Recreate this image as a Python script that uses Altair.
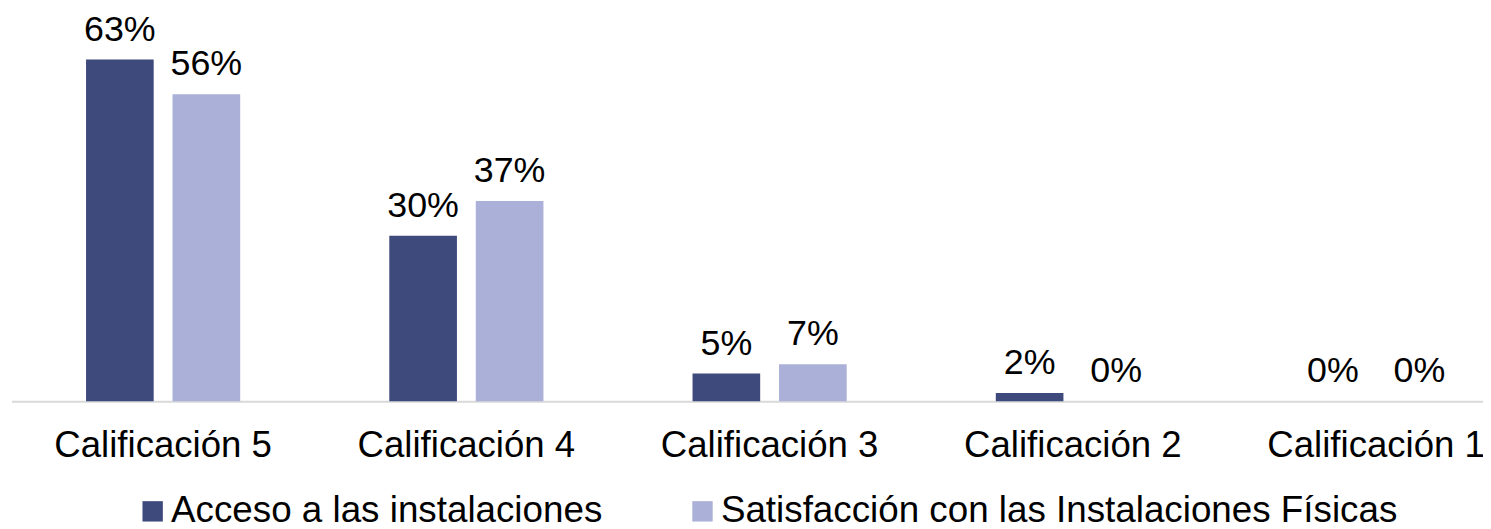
import altair as alt
import pandas as pd

categories = ["Calificación 5", "Calificación 4", "Calificación 3", "Calificación 2", "Calificación 1"]
series = ["Acceso a las instalaciones", "Satisfacción con las Instalaciones Físicas"]
acceso = [62.8, 30.4, 5.1, 1.5, 0.0]
satisfaccion = [56.4, 36.8, 6.8, 0.0, 0.0]
acceso_labels = ["63%", "30%", "5%", "2%", "0%"]
satisfaccion_labels = ["56%", "37%", "7%", "0%", "0%"]
colors = ["#3F4A7C", "#AAB0D8"]

rows = []
for i, c in enumerate(categories):
    rows.append({"cat": c, "serie": series[0], "value": acceso[i], "label": acceso_labels[i]})
    rows.append({"cat": c, "serie": series[1], "value": satisfaccion[i], "label": satisfaccion_labels[i]})
df = pd.DataFrame(rows)

font = "Liberation Sans"

x = alt.X(
    "cat:N", sort=categories, title=None,
    scale=alt.Scale(range=[0, 1525], paddingInner=0, paddingOuter=0),
    axis=alt.Axis(labelAngle=0, ticks=False, domainColor="#D9D9D9", domainWidth=2,
                  labelFontSize=36.8, labelFont=font, labelColor="black", labelPadding=27,
                  labelLimit=0, labelOverlap=False),
)
xo = alt.XOffset("serie:N", sort=series, scale=alt.Scale(paddingInner=0.218, paddingOuter=0.862))
y = alt.Y("value:Q", scale=alt.Scale(domain=[0, 72]), axis=None)

bars = alt.Chart(df).mark_bar().encode(
    x=x, xOffset=xo, y=y,
    color=alt.Color(
        "serie:N", sort=series,
        scale=alt.Scale(domain=series, range=colors),
        legend=alt.Legend(
            title=None, orient="none", legendX=123.5, legendY=486, direction="horizontal",
            symbolType="square", symbolSize=420, symbolStrokeWidth=0,
            labelFontSize=37, labelFont=font, labelColor="black", labelOffset=0,
            columnPadding=82, padding=0, labelLimit=1000,
        ),
    ),
)
text = alt.Chart(df).mark_text(dy=-19, baseline="alphabetic", fontSize=36, font=font, color="black").encode(
    x=x, xOffset=xo, y=y, text="label:N"
)

chart = (bars + text).properties(
    width=1480, height=394,
    autosize=alt.AutoSizeParams(type="none"),
    padding={"left": 3.5, "top": 0, "right": 0, "bottom": 127},
).configure_view(stroke=None)

chart.save("out.html", embed_options={"renderer": "svg", "actions": False})
